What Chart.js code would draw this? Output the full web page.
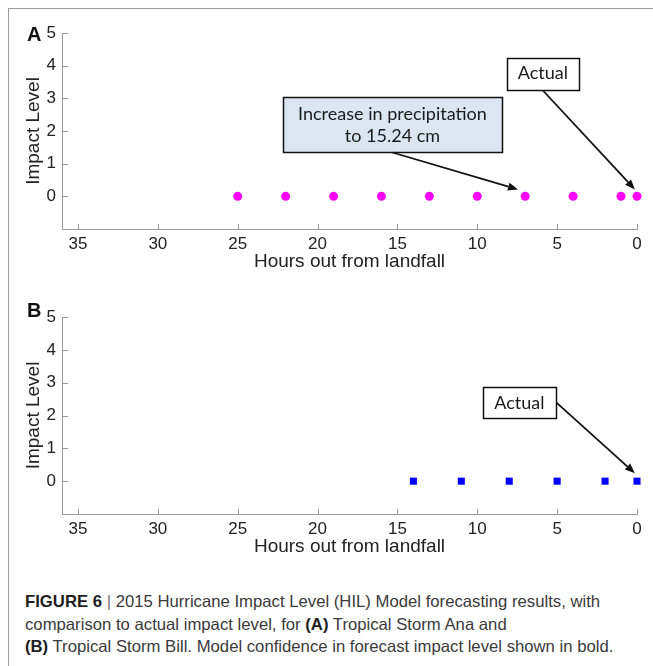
<!DOCTYPE html>
<html>
<head>
<meta charset="utf-8">
<script src="https://cdn.jsdelivr.net/npm/chart.js@4.4.1/dist/chart.umd.min.js"></script>
<style>
  html, body { margin: 0; padding: 0; background: #fff; }
  body { width: 653px; height: 666px; position: relative; overflow: hidden; font-family: "Liberation Sans", Arial, sans-serif; }
  #frame { position: absolute; left: 8px; top: 8px; width: 700px; height: 700px; border-top: 1.5px solid #9c9c9c; border-left: 1.5px solid #9c9c9c; }
  .panel { position: absolute; left: 0; width: 653px; }
  #panelA { top: 0; height: 284px; }
  #panelB { top: 284px; height: 300px; }
  #caption { position: absolute; left: 25px; top: 590px; font-size: 16.5px; line-height: 22.5px; color: #3a3a3a; white-space: nowrap; transform-origin: left top; }
  #caption b { color: #1e1e1e; }
  #caption .sep { color: #777; }
</style>
</head>
<body>
<div id="frame"></div>
<div class="panel" id="panelA"><canvas id="chartA"></canvas></div>
<div class="panel" id="panelB"><canvas id="chartB"></canvas></div>
<div id="caption">
  <div id="capLine1"><b>FIGURE 6</b> <span class="sep">|</span> 2015 Hurricane Impact Level (HIL) Model forecasting results, with</div>
  <div>comparison to actual impact level, for <b>(A)</b> Tropical Storm Ana and</div>
  <div><b>(B)</b> Tropical Storm Bill. Model confidence in forecast impact level shown in bold.</div>
</div>
<script>
// Tropical Storm Ana (panel A)
const anaHours = [25, 22, 19, 16, 13, 10, 7, 4, 1, 0];
const anaLevels = [0, 0, 0, 0, 0, 0, 0, 0, 0, 0];
// Tropical Storm Bill (panel B)
const billHours = [14, 11, 8, 5, 2, 0];
const billLevels = [0, 0, 0, 0, 0, 0];

const hourTicks = [0, 5, 10, 15, 20, 25, 30, 35];
const levelTicks = [0, 1, 2, 3, 4, 5];

// callouts: box centre and arrow tip in data units
const anaNotes = [
  { text: ['Increase in precipitation', 'to 15.24 cm'], x: 15.31, y: 2.19, w: 219, h: 55, fill: '#dce6f2', from: 'bottom', tipX: 7.45, tipY: 0.21 },
  { text: ['Actual'], x: 5.89, y: 3.76, w: 72, h: 32, fill: '#ffffff', from: 'bottom', tipX: 0.13, tipY: 0.21 }
];
const billNotes = [
  { text: ['Actual'], x: 7.36, y: 2.39, w: 73, h: 31, fill: '#ffffff', from: 'right', tipX: 0.13, tipY: 0.24 }
];

const axisGray = '#9a9a9a';
const textDark = '#222222';

const decorPlugin = {
  id: 'decor',
  afterDraw(chart, args, opts) {
    const ctx = chart.ctx;
    const xs = chart.scales.x;
    const ys = chart.scales.y;
    const area = chart.chartArea;
    ctx.save();

    // inward tick marks like the original
    ctx.strokeStyle = axisGray;
    ctx.lineWidth = 1;
    xs.ticks.forEach(t => {
      const px = Math.round(xs.getPixelForValue(t.value)) + 0.5;
      ctx.beginPath();
      ctx.moveTo(px, area.bottom);
      ctx.lineTo(px, area.bottom - 5);
      ctx.stroke();
    });
    ys.ticks.forEach(t => {
      const py = Math.round(ys.getPixelForValue(t.value)) + 0.5;
      ctx.beginPath();
      ctx.moveTo(area.left, py);
      ctx.lineTo(area.left + 6, py);
      ctx.stroke();
    });

    // panel letter
    ctx.fillStyle = '#111';
    ctx.font = 'bold 20px "Liberation Sans", Arial, sans-serif';
    ctx.textAlign = 'left';
    ctx.textBaseline = 'alphabetic';
    ctx.fillText(opts.letter, 27, opts.letterY);

    // callout boxes and arrows
    (opts.notes || []).forEach(n => {
      const cx = xs.getPixelForValue(n.x);
      const cy = ys.getPixelForValue(n.y);
      const left = Math.round(cx - n.w / 2) + 0.5;
      const top = Math.round(cy - n.h / 2) + 0.5;

      ctx.fillStyle = n.fill;
      ctx.fillRect(left, top, n.w, n.h);
      ctx.strokeStyle = '#111';
      ctx.lineWidth = 1.5;
      ctx.strokeRect(left, top, n.w, n.h);

      ctx.fillStyle = '#1a1a1a';
      ctx.font = '18px Lato, "Open Sans", sans-serif';
      ctx.textAlign = 'center';
      ctx.textBaseline = 'middle';
      const lineH = 22;
      const y0 = cy - (n.text.length - 1) * lineH / 2;
      n.text.forEach((line, i) => ctx.fillText(line, cx, y0 + i * lineH));

      let sx, sy;
      if (n.from === 'right') { sx = left + n.w; sy = cy; } else { sx = cx; sy = top + n.h; }
      const tx = xs.getPixelForValue(n.tipX);
      const ty = ys.getPixelForValue(n.tipY);
      const ang = Math.atan2(ty - sy, tx - sx);
      const headLen = 10, headW = 4;
      const bx = tx - headLen * Math.cos(ang);
      const by = ty - headLen * Math.sin(ang);

      ctx.strokeStyle = '#111';
      ctx.lineWidth = 1.8;
      ctx.beginPath();
      ctx.moveTo(sx, sy);
      ctx.lineTo(bx, by);
      ctx.stroke();

      ctx.fillStyle = '#111';
      ctx.beginPath();
      ctx.moveTo(tx, ty);
      ctx.lineTo(bx + headW * Math.sin(ang), by - headW * Math.cos(ang));
      ctx.lineTo(bx - headW * Math.sin(ang), by + headW * Math.cos(ang));
      ctx.closePath();
      ctx.fill();
    });

    ctx.restore();
  }
};

function makePanel(canvasId, cfg) {
  const ctx = document.getElementById(canvasId).getContext('2d');
  return new Chart(ctx, {
    type: 'scatter',
    data: {
      datasets: [{
        data: cfg.hours.map((h, i) => ({ x: h, y: cfg.levels[i] })),
        backgroundColor: cfg.color,
        borderColor: cfg.color,
        borderWidth: 0,
        pointStyle: cfg.pointStyle,
        pointRadius: cfg.radius,
        pointHoverRadius: cfg.radius,
        clip: false
      }]
    },
    options: {
      responsive: true,
      maintainAspectRatio: false,
      animation: false,
      devicePixelRatio: 1,
      layout: { padding: { left: 0, right: 16, top: 33, bottom: cfg.padBottom } },
      plugins: {
        legend: { display: false },
        tooltip: { enabled: false },
        decor: { letter: cfg.letter, letterY: cfg.letterY, notes: cfg.notes }
      },
      scales: {
        x: {
          type: 'linear',
          min: 0,
          max: 36,
          reverse: true,
          afterBuildTicks: scale => { scale.ticks = hourTicks.map(v => ({ value: v })); },
          afterFit: scale => { scale.height = 50; },
          grid: { display: false, drawTicks: false },
          border: { display: true, color: axisGray, width: 1 },
          ticks: {
            padding: 5,
            color: textDark,
            maxRotation: 0,
            font: { family: '"Liberation Sans", Arial, sans-serif', size: 17 }
          },
          title: {
            display: true,
            text: 'Hours out from landfall',
            color: textDark,
            padding: { top: 0, bottom: 6 },
            font: { family: '"Liberation Sans", Arial, sans-serif', size: 19 }
          }
        },
        y: {
          type: 'linear',
          min: -1,
          max: 5,
          afterBuildTicks: scale => { scale.ticks = levelTicks.map(v => ({ value: v })); },
          afterFit: scale => { scale.width = 62; },
          grid: { display: false, drawTicks: false },
          border: { display: true, color: axisGray, width: 1 },
          ticks: {
            padding: 6,
            color: textDark,
            font: { family: '"Liberation Sans", Arial, sans-serif', size: 17 }
          },
          title: {
            display: true,
            text: 'Impact Level',
            color: textDark,
            padding: { top: 22, bottom: 0 },
            font: { family: '"Liberation Sans", Arial, sans-serif', size: 19 }
          }
        }
      }
    },
    plugins: [decorPlugin]
  });
}

makePanel('chartA', {
  hours: anaHours, levels: anaLevels, color: '#ff00ff', pointStyle: 'circle', radius: 4.5,
  letter: 'A', letterY: 41, notes: anaNotes, padBottom: 5
});
makePanel('chartB', {
  hours: billHours, levels: billLevels, color: '#0000ff', pointStyle: 'rect', radius: 5,
  letter: 'B', letterY: 317 - 284, notes: billNotes, padBottom: 20
});

// squeeze the caption to the narrow width of the original typeface
const cap = document.getElementById('caption');
const line1 = document.getElementById('capLine1');
const span = document.createElement('span');
span.innerHTML = line1.innerHTML;
span.style.whiteSpace = 'nowrap';
line1.innerHTML = '';
line1.appendChild(span);
const textW = span.getBoundingClientRect().width;
if (textW > 0) cap.style.transform = 'scaleX(' + (575 / textW).toFixed(3) + ')';
</script>
</body>
</html>
